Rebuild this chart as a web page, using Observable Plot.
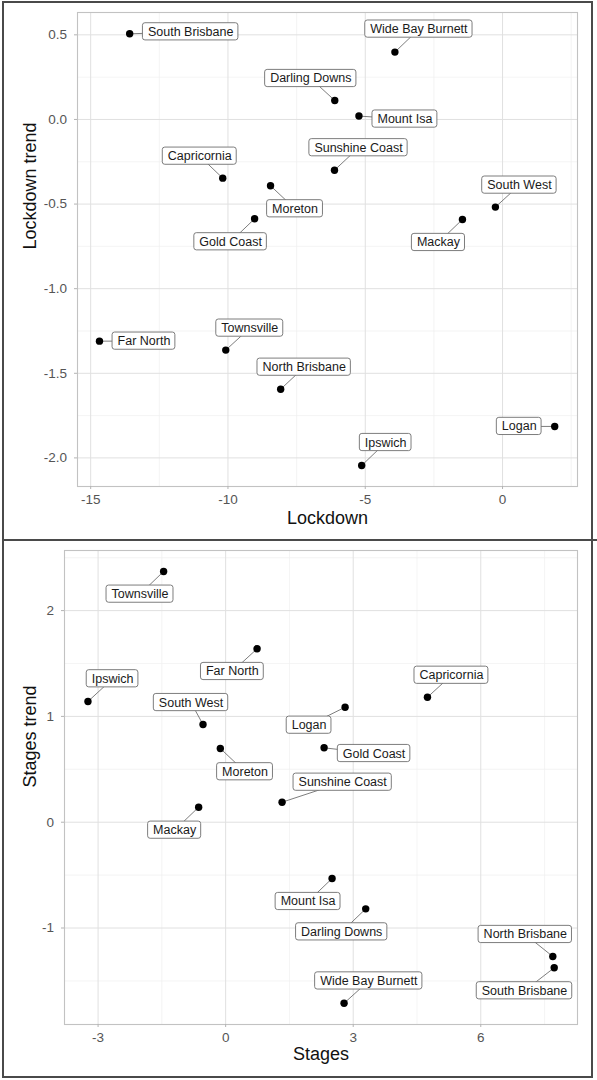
<!DOCTYPE html>
<html>
<head>
<meta charset="utf-8">
<script src="https://cdn.jsdelivr.net/npm/d3@7"></script>
<script src="https://cdn.jsdelivr.net/npm/@observablehq/plot@0.6"></script>
<style>
  html, body { margin: 0; padding: 0; background: #fff; }
  #wrap { position: relative; width: 597px; height: 1080px; overflow: hidden; }
  #wrap svg { position: absolute; left: 0; display: block; }
  .ln { position: absolute; background: #4a4a4a; }
</style>
</head>
<body>
<div id="wrap"></div>
<script>
// ---------- data ----------
const regions = ["South Brisbane","Wide Bay Burnett","Darling Downs","Mount Isa","Sunshine Coast","Capricornia","Moreton","Gold Coast","South West","Mackay","Far North","Townsville","North Brisbane","Ipswich","Logan"];
const lockdown      = [-13.58, -3.92, -6.11, -5.23, -6.12, -10.19, -8.45, -9.03, -0.26, -1.46, -14.68, -10.08, -8.08, -5.13, 1.90];
const lockdownTrend = [0.506, 0.398, 0.112, 0.02, -0.30, -0.347, -0.392, -0.587, -0.518, -0.591, -1.31, -1.363, -1.594, -2.045, -1.814];
const stages        = [7.727, 2.785, 3.294, 2.503, 1.327, 4.746, -0.125, 2.315, -0.532, -0.635, 0.739, -1.459, 7.694, -3.238, 2.809];
const stagesTrend   = [-1.376, -1.711, -0.819, -0.532, 0.189, 1.181, 0.697, 0.703, 0.923, 0.142, 1.639, 2.37, -1.269, 1.141, 1.087];

const lockdownTicks = [-15, -10, -5, 0];
const lockdownTrendTicks = [0.5, 0.0, -0.5, -1.0, -1.5, -2.0];
const stagesTicks = [-3, 0, 3, 6];
const stagesTrendTicks = [2, 1, 0, -1];

// ---------- layout (label nudges in pixels, same order as regions) ----------
const topNudge = [[61,-2],[24,-23],[-24,-22],[46,3],[24,-22.5],[-23,-22],[24.5,23],[-24,23],[24,-22],[-24,23],[44.5,0],[24,-22],[23.5,-22],[24,-23],[-35.5,0]];
const botNudge = [[-29.7,23],[24.7,-22.3],[-24,23],[-24,23],[60.6,-20],[24,-22],[24.7,23.3],[50,5.7],[-12,-22],[-24,23],[-24.7,22.7],[-23.6,22.7],[-27.5,-22],[24.6,-22.7],[-36,18]];

const W = 592;
const FONT = '"Liberation Sans", Arial, Helvetica, sans-serif';
const LABEL_SIZE = 12.5;
const ctx = document.createElement("canvas").getContext("2d");
ctx.font = `${LABEL_SIZE}px "Liberation Sans", Arial, sans-serif`;
const measure = s => ctx.measureText(s).width;

function minorOf(ticks, domain) {
  const step = Math.abs(ticks[1] - ticks[0]);
  const lo = Math.min(...ticks) - step, hi = Math.max(...ticks) + step;
  const out = [];
  for (let v = lo + step / 2; v <= hi; v += step) {
    if (v > domain[0] && v < domain[1]) out.push(v);
  }
  return out;
}

function panel({xv, yv, xLabel, yLabel, xDomain, yDomain, xTicks, yTicks, yFmt, nudge, margins, height, titleDy, titleDx}) {
  const [mT, mR, mB, mL] = margins;
  const sx = d3.scaleLinear(xDomain, [mL, W - mR]);
  const sy = d3.scaleLinear(yDomain, [height - mB, mT]);
  const data = regions.map((name, i) => {
    const px = sx(xv[i]), py = sy(yv[i]);
    const lx = px + nudge[i][0], ly = py + nudge[i][1];
    const hw = measure(name) / 2 + 5;
    return {
      name, x: xv[i], y: yv[i],
      lx: sx.invert(lx), ly: sy.invert(ly),
      x1: sx.invert(lx - hw), x2: sx.invert(lx + hw),
      y1: sy.invert(ly + 8.6), y2: sy.invert(ly - 8.6)
    };
  });
  return Plot.plot({
    width: W, height,
    marginTop: mT, marginRight: mR, marginBottom: mB, marginLeft: mL,
    x: {domain: xDomain},
    y: {domain: yDomain},
    style: {fontFamily: FONT, background: "white", overflow: "visible"},
    marks: [
      Plot.ruleX(minorOf(xTicks, xDomain), {stroke: "#efefef", strokeWidth: 0.7}),
      Plot.ruleY(minorOf(yTicks, yDomain), {stroke: "#efefef", strokeWidth: 0.7}),
      Plot.ruleX(xTicks, {stroke: "#e0e0e0", strokeWidth: 1}),
      Plot.ruleY(yTicks, {stroke: "#e0e0e0", strokeWidth: 1}),
      Plot.frame({stroke: "#c2c2c2", strokeWidth: 1.1}),
      Plot.axisX(xTicks, {tickSize: 3, tickPadding: 4.5, fontSize: 13.5, fill: "#555", stroke: "#b3b3b3", label: null, tickFormat: d => String(d)}),
      Plot.axisY(yTicks, {tickSize: 3, tickPadding: 7.5, fontSize: 13.5, fill: "#555", stroke: "#b3b3b3", label: null, tickFormat: yFmt}),
      Plot.text([xLabel], {frameAnchor: "bottom", dy: titleDy, fontSize: 18, fill: "#111"}),
      Plot.text([yLabel], {frameAnchor: "left", dx: titleDx, rotate: -90, fontSize: 18, fill: "#111"}),
      Plot.link(data, {x1: "x", y1: "y", x2: "lx", y2: "ly", stroke: "#6e6e6e", strokeWidth: 0.9}),
      Plot.rect(data, {x1: "x1", x2: "x2", y1: "y1", y2: "y2", fill: "white", stroke: "#6e6e6e", strokeWidth: 0.9, rx: 2.5}),
      Plot.text(data, {x: "lx", y: "ly", text: "name", fontSize: LABEL_SIZE, fill: "#1a1a1a"}),
      Plot.dot(data, {x: "x", y: "y", r: 3.7, fill: "black", stroke: "none"})
    ]
  });
}

const topChart = panel({
  xv: lockdown, yv: lockdownTrend, xLabel: "Lockdown", yLabel: "Lockdown trend",
  xDomain: [-15.48, 2.73], yDomain: [-2.169, 0.632],
  xTicks: lockdownTicks, yTicks: lockdownTrendTicks, yFmt: d => d.toFixed(1),
  nudge: topNudge, margins: [12, 15, 54, 77], height: 540, titleDy: 37, titleDx: -47
});
const botChart = panel({
  xv: stages, yv: stagesTrend, xLabel: "Stages", yLabel: "Stages trend",
  xDomain: [-3.79, 8.275], yDomain: [-1.912, 2.568],
  xTicks: stagesTicks, yTicks: stagesTrendTicks, yFmt: d => String(d),
  nudge: botNudge, margins: [10, 15, 56, 64], height: 540, titleDy: 35, titleDx: -34
});

const wrap = document.getElementById("wrap");
topChart.style.top = "0px";
botChart.style.top = "540px";
wrap.appendChild(topChart);
wrap.appendChild(botChart);

// outer frame lines
[
  {l: 2, t: 1, w: 2, h: 1077},
  {l: 591, t: 1, w: 2, h: 1077},
  {l: 2, t: 1, w: 591, h: 2},
  {l: 2, t: 1076, w: 591, h: 2},
  {l: 2, t: 539, w: 595, h: 2}
].forEach(b => {
  const d = document.createElement("div");
  d.className = "ln";
  Object.assign(d.style, {left: b.l + "px", top: b.t + "px", width: b.w + "px", height: b.h + "px"});
  wrap.appendChild(d);
});
</script>
</body>
</html>
